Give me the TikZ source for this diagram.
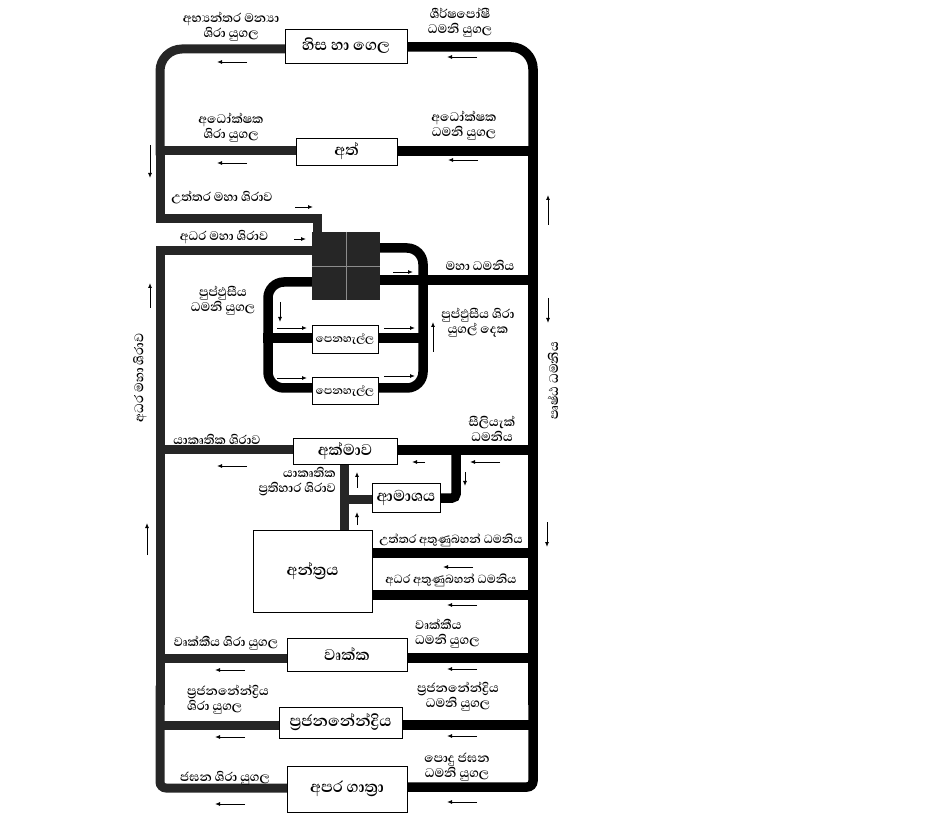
\documentclass[tikz,border=0pt]{standalone}
\usepackage{fontspec}
\newfontfamily\sinhala[Script=Sinhala]{Abhaya Libre}
\usetikzlibrary{arrows.meta, calc, backgrounds}

\begin{document}
\begin{tikzpicture}[
		x=1pt, y=-1pt,
		% Vessels: veins on the left rail, arteries on the right rail
		vein/.style={line width=9pt, draw=black!85, line cap=rect},
		artery/.style={line width=9.5pt, draw=black, line cap=rect},
		% Organ boxes
		organ/.style={draw, fill=white, line width=0.8pt, inner sep=0pt,
			font=\sinhala\bfseries\fontsize{20}{22}\selectfont},
		lungbox/.style={organ, minimum width=66pt, font=\sinhala\bfseries\fontsize{14}{16}\selectfont},
		heartbox/.style={fill=black!85, minimum size=68pt, inner sep=0pt},
		% Labels & flow arrows
		vlabel/.style={font=\sinhala\bfseries\fontsize{16}{15}\selectfont, align=center, inner sep=1pt},
		small label/.style={vlabel, font=\sinhala\bfseries\fontsize{15}{15}\selectfont},
		flow/.style={line width=0.9pt, -{Latex[length=5pt,width=4pt]}}
		]
		\useasboundingbox (0,0) rectangle (938,818);
		
		% ==============================================================================
		% Rail points
		% ==============================================================================
		\coordinate (vTop) at (160,49);  \coordinate (aTop) at (533,47);
		\coordinate (vArm) at (160,151); \coordinate (aArm) at (533,151);
		\coordinate (vSVC) at (160,219); \coordinate (vIVC) at (160,251);
		\coordinate (aAo)  at (533,280);
		\coordinate (vLiv) at (160,450); \coordinate (aLiv) at (533,450);
		\coordinate (aSMA) at (533,553); \coordinate (aIMA) at (533,595);
		\coordinate (vKid) at (160,658); \coordinate (aKid) at (533,658);
		\coordinate (vRep) at (160,725); \coordinate (aRep) at (533,725);
		\coordinate (vBot) at (160,788); \coordinate (aBot) at (533,787);
		% pulmonary loop corners
		\coordinate (pTL) at (268,282); \coordinate (pBL) at (268,388);
		\coordinate (pBR) at (423,388); \coordinate (pTR) at (423,248);
		
		% ==============================================================================
		% Organs
		% ==============================================================================
		\node[organ, minimum width=122pt, minimum height=34pt] (head) at (346,46) {හිස හා ගෙල};
		\node[organ, minimum width=101pt, minimum height=27pt] (arm) at (346.5,151.5) {අත්};
		\node[heartbox] (heart) at (346,266) {};
		\draw[black!45, line width=0.6pt] (heart.north) -- (heart.south);
		\draw[black!45, line width=0.6pt] (heart.west) -- (heart.east);
		\node[lungbox, minimum height=28pt] (lung1) at (345,339) {පෙනහැල්ල};
		\node[lungbox, minimum height=27pt] (lung2) at (345,390.5) {පෙනහැල්ල};
		\node[organ, minimum width=104pt, minimum height=26pt] (liver) at (345,451) {අක්මාව};
		\node[organ, minimum width=68pt, minimum height=29pt] (stomach) at (406,497.5) {ආමාශය};
		\node[organ, minimum width=119pt, minimum height=82pt] (gut) at (312.5,571) {අන්ත්‍රය};
		\node[organ, minimum width=120pt, minimum height=33pt] (kidney) at (347,654.5) {වෘක්ක};
		\node[organ, minimum width=123pt, minimum height=31pt] (repro) at (340.5,722.5) {ප්‍රජනනේන්ද්‍රිය};
		\node[organ, minimum width=120pt, minimum height=46pt] (limb) at (347,789) {අපර ගාත්‍රා};
		
		% ==============================================================================
		% Vessels (behind the boxes)
		% ==============================================================================
		\begin{scope}[on background layer]
			% veins
			\draw[vein, rounded corners=22] (vTop -| head.west) -- (vTop) -- (vArm);
			\draw[vein] (vArm) -- (vSVC) -- (317,219) -- (317,240);
			\draw[vein] (vIVC -| heart.west) -- (vIVC) -- (160,700);
			\draw[vein, rounded corners=6] (160,690) -- (vBot) -- (vBot -| limb.west);
			\draw[vein] (vArm) -- (vArm -| arm.west);
			\draw[vein] (vLiv) -- (vLiv -| liver.west);
			\draw[vein] (vKid) -- (vKid -| kidney.west);
			\draw[vein] (vRep) -- (vRep -| repro.west);
			\draw[vein] (344,464) -- (344,530);
			\draw[vein] (344,499) -- (stomach.west |- 0,499);
			
			% arteries
			\draw[artery, rounded corners=22] (aTop -| head.east) -- (aTop) -- (aArm);
			\draw[artery] (aArm) -- (533,700);
			\draw[artery, rounded corners=6] (533,690) -- (aBot) -- (aBot -| limb.east);
			\draw[artery] (aArm) -- (aArm -| arm.east);
			\draw[artery, rounded corners=16] (heart.east |- pTR) -- (pTR) -- (pBR) -- (pBL) -- (pTL) -- (pTL -| heart.west);
			\draw[artery] (268,338) -- (lung1.west |- 0,338);
			\draw[artery] (lung1.east |- 0,338) -- (423,338);
			\draw[artery] (aAo -| heart.east) -- (aAo);
			\draw[artery] (aLiv -| liver.east) -- (aLiv);
			\draw[artery, rounded corners=4] (456,450) -- (456,498) -- (stomach.east |- 0,498);
			\draw[artery] (aSMA -| gut.east) -- (aSMA);
			\draw[artery] (aIMA -| gut.east) -- (aIMA);
			\draw[artery] (aKid -| kidney.east) -- (aKid);
			\draw[artery] (aRep -| repro.east) -- (aRep);
		\end{scope}
		
		% ==============================================================================
		% Labels
		% ==============================================================================
		\node[vlabel] (lIJV) at (231,27) {අභ්‍යන්තර මන්‍යා\\ශිරා යුගල};
		\node[vlabel] (lCar) at (460,23) {ශීර්ෂපෝෂී\\ධමනි යුගල};
		\node[vlabel] (lSubV) at (231,128) {අධෝක්ෂක\\ශිරා යුගල};
		\node[vlabel] (lSubA) at (464,126) {අධෝක්ෂක\\ධමනි යුගල};
		\node[vlabel] (lSVC) at (222,198) {උත්තර මහා ශිරාව};
		\node[vlabel] (lIVC) at (224,237) {අධර මහා ශිරාව};
		\node[vlabel] (lPA) at (223,301) {පුප්ඵුසීය\\ධමනි යුගල};
		\node[vlabel] (lAo) at (480,265) {මහා ධමනිය};
		\node[vlabel] (lPV) at (478,323) {පුප්ඵුසීය ශිරා\\යුගල් දෙක};
		\node[vlabel, rotate=90] (lDA) at (553,381) {පෘෂ්ඨ ධමනිය};
		\node[vlabel, rotate=90] (lIVC2) at (140,378) {අධර මහා ශිරාව};
		\node[vlabel] (lHV) at (217,439) {යාකෘතික ශිරාව};
		\node[vlabel] (lCel) at (492,429) {සීලියැක්\\ධමනිය};
		\node[vlabel, align=right, anchor=east] (lHPV) at (337,482) {යාකෘතික\\ප්‍රතිහාර ශිරාව};
		\node[small label] (lSMA) at (451,540) {උත්තර අතුණුබහන් ධමනිය};
		\node[small label] (lIMA) at (451,580) {අධර අතුණුබහන් ධමනිය};
		\node[vlabel] (lRV) at (226,643) {වෘක්කීය ශිරා යුගල};
		\node[vlabel, align=left, anchor=west] (lRA) at (414,634) {වෘක්කීය\\ධමනි යුගල};
		\node[vlabel, align=left, anchor=west] (lGV) at (186,700) {ප්‍රජනනේන්ද්‍රිය\\ශිරා යුගල};
		\node[vlabel] (lGA) at (458,697) {ප්‍රජනනේන්ද්‍රිය\\ධමනි යුගල};
		\node[vlabel] (lIlV) at (225,778) {ජඝන ශිරා යුගල};
		\node[vlabel] (lIlA) at (457,767) {පොදු ජඝන\\ධමනි යුගල};
		
		% ==============================================================================
		% Flow arrows
		% ==============================================================================
		% leftwards
		\foreach \y/\x in {62/247, 57/477, 163/247, 160/478, 466/247, 462/500, 567/473,
			605/477, 670/245, 669/477, 737/245, 736/477, 804/245, 802/477}
			\draw[flow] (\x,\y) -- ++(-30,0);
		\draw[flow] (425,462) -- (412,462);
		% rightwards
		\draw[flow] (295,207) -- (313,207);
		\draw[flow] (294,239) -- (306,239);
		\draw[flow] (393,272) -- (413,272);
		\foreach \y in {328,378} \draw[flow] (277,\y) -- (307,\y);
		\foreach \y in {328,376} \draw[flow] (384,\y) -- (415,\y);
		% downwards
		\draw[flow] (150,145) -- (150,178);
		\draw[flow] (280,302) -- (280,322);
		\draw[flow] (548,298) -- (548,323);
		\draw[flow] (547,522) -- (547,547);
		\draw[flow] (465,472) -- (465,486);
		% upwards
		\draw[flow] (548,225) -- (548,195);
		\draw[flow] (150,308) -- (150,283);
		\draw[flow] (147,555) -- (147,523);
		\draw[flow] (433,352) -- (433,322);
		\draw[flow] (357,488) -- (357,472);
		\draw[flow] (357,525) -- (357,512);
	\end{tikzpicture}
\end{document}
